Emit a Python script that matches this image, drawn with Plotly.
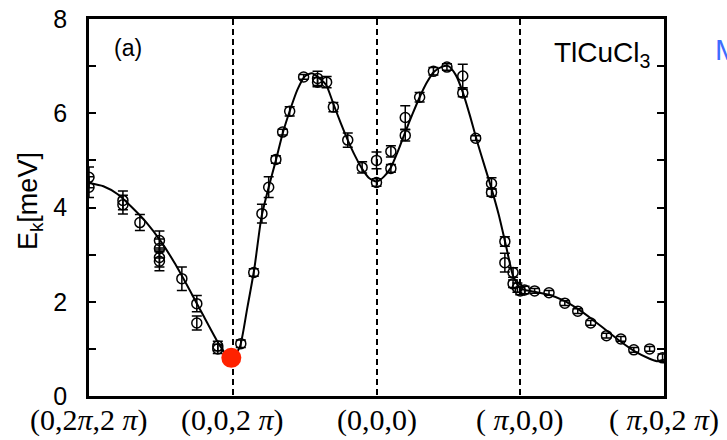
import plotly.graph_objects as go

# symmetry points along the path
path_pos = [0, 1, 2, 3, 4]
path_labels = ["(0,2<i>π</i>,2 <i>π</i>)", "(0,0,2 <i>π</i>)", "(0,0,0)", "( <i>π</i>,0,0)", "( <i>π</i>,0,2 <i>π</i>)"]

# measured points (path coordinate, energy meV, error)
pt_t = [0.0, 0.0, 0.236, 0.236, 0.354, 0.49, 0.49, 0.49, 0.49, 0.646, 0.75, 0.75, 0.896, 0.896,
        1.056, 1.146, 1.203, 1.25, 1.30, 1.347, 1.396, 1.493, 1.59, 1.59, 1.653, 1.70, 1.80, 1.90, 2.0, 2.0,
        2.10, 2.10, 2.20, 2.20, 2.30, 2.396, 2.49, 2.60, 2.60, 2.69, 2.80, 2.80, 2.893, 2.893, 2.95, 2.95, 2.98, 3.0, 3.03,
        3.10, 3.20, 3.31, 3.40, 3.49, 3.60, 3.70, 3.79, 3.90, 3.99]
pt_e = [4.64, 4.43, 4.15, 4.06, 3.68, 3.30, 3.13, 2.94, 2.86, 2.49, 1.96, 1.55, 1.06, 1.00,
        1.11, 2.62, 3.87, 4.43, 5.02, 5.60, 6.04, 6.77, 6.74, 6.66, 6.66, 6.13, 5.43, 4.85, 5.00, 4.53,
        5.19, 4.83, 5.91, 5.53, 6.34, 6.89, 6.98, 6.79, 6.43, 5.47, 4.51, 4.32, 3.28, 2.83, 2.62, 2.38, 2.30, 2.23, 2.25,
        2.23, 2.19, 1.97, 1.80, 1.55, 1.28, 1.21, 0.98, 1.00, 0.81]
pt_err = [0.22, 0.22, 0.20, 0.20, 0.17, 0.20, 0.20, 0.20, 0.20, 0.25, 0.17, 0.15, 0.10, 0.10,
          0.08, 0.08, 0.20, 0.22, 0.08, 0.06, 0.10, 0.05, 0.15, 0.10, 0.12, 0.10, 0.15, 0.12, 0.18, 0.08,
          0.12, 0.08, 0.25, 0.12, 0.10, 0.08, 0.07, 0.25, 0.08, 0.05, 0.12, 0.08, 0.10, 0.20, 0.10, 0.08, 0.10, 0.08, 0.08,
          0.05, 0.05, 0.05, 0.05, 0.05, 0.05, 0.05, 0.05, 0.05, 0.08]

# theoretical dispersion curve
fit_t = [0.0, 0.1, 0.2, 0.3, 0.4, 0.5, 0.6, 0.7, 0.8, 0.9, 0.95, 1.0,
         1.05, 1.1, 1.15, 1.2, 1.25, 1.3, 1.35, 1.4, 1.45, 1.5, 1.55, 1.6, 1.65, 1.7, 1.75, 1.8, 1.85, 1.9, 1.95, 2.0,
         2.05, 2.1, 2.15, 2.2, 2.25, 2.3, 2.35, 2.4, 2.45, 2.5, 2.55, 2.6, 2.65, 2.7, 2.75, 2.8, 2.85, 2.9, 2.95, 3.0,
         3.05, 3.1, 3.2, 3.3, 3.4, 3.5, 3.6, 3.7, 3.8, 3.9, 3.95, 4.0]
fit_e = [4.52, 4.45, 4.28, 4.00, 3.68, 3.28, 2.80, 2.25, 1.68, 1.12, 0.90, 0.82,
         1.05, 1.85, 2.70, 3.80, 4.43, 5.00, 5.60, 6.08, 6.50, 6.78, 6.85, 6.75, 6.60, 6.20, 5.80, 5.43, 5.10, 4.82, 4.62, 4.55,
         4.65, 4.85, 5.20, 5.60, 5.98, 6.34, 6.65, 6.88, 6.98, 7.00, 6.82, 6.45, 5.95, 5.40, 4.90, 4.40, 3.85, 3.20, 2.55, 2.28,
         2.24, 2.21, 2.15, 2.03, 1.85, 1.63, 1.39, 1.15, 0.94, 0.79, 0.74, 0.77]

# highlighted gap minimum
gap_t = [0.99]
gap_e = [0.81]

fig = go.Figure()
fig.add_trace(go.Scatter(x=fit_t, y=fit_e, mode="lines", line=dict(color="black", width=2, shape="spline", smoothing=0.6),
                         showlegend=False, hoverinfo="skip"))
fig.add_trace(go.Scatter(x=pt_t, y=pt_e, mode="markers",
                         error_y=dict(type="data", array=pt_err, color="black", thickness=1.5, width=5),
                         marker=dict(symbol="circle-open", size=10, color="black", line=dict(width=1.5)),
                         showlegend=False))
fig.add_trace(go.Scatter(x=gap_t, y=gap_e, mode="markers", marker=dict(size=20, color="#ff2200"),
                         showlegend=False))

# path labels below the axis
label_ann = [dict(text=lab, xref="x", yref="paper", x=pos, y=0, yshift=-5, showarrow=False,
                  xanchor="center", yanchor="top",
                  font=dict(family="Liberation Serif", size=30, color="black"))
             for pos, lab in zip(path_pos, path_labels)]

fig.update_layout(
    width=727, height=440,
    margin=dict(l=89, r=63, t=19, b=44),
    plot_bgcolor="white", paper_bgcolor="white",
    font=dict(family="Liberation Sans", color="black"),
    xaxis=dict(range=[0, 4], tickvals=path_pos, showticklabels=False, ticks="", automargin=False,
               showgrid=True, gridcolor="black", gridwidth=2, griddash="6px,4px",
               showline=True, linecolor="black", linewidth=2.5, mirror=True, zeroline=False),
    yaxis=dict(range=[0, 8], tickvals=[0, 2, 4, 6, 8], ticks="inside", ticklen=7, tickwidth=2, tickcolor="black",
               automargin=False,
               minor=dict(tickvals=[1, 3, 5, 7], ticks="inside", ticklen=7, tickwidth=2, tickcolor="black", showgrid=False),
               showgrid=False, zeroline=False, showline=True, linecolor="black", linewidth=2.5, mirror="ticks",
               tickfont=dict(family="Liberation Sans", size=25, color="black"), ticklabelstandoff=14),
    annotations=label_ann + [
        dict(text="(a)", xref="paper", yref="paper", x=0.068, y=0.923, showarrow=False,
             xanchor="center", yanchor="middle", font=dict(size=23, color="black")),
        dict(text="TlCuCl<sub>3</sub>", xref="paper", yref="paper", x=0.981, y=0.905, showarrow=False,
             xanchor="right", yanchor="middle", font=dict(size=28, color="black")),
        dict(text="M", xref="paper", yref="paper", x=1.085, y=0.918, showarrow=False,
             xanchor="left", yanchor="middle", font=dict(size=30, color="#3d6cff")),
        dict(text="E<sub>k</sub>[meV]", xref="paper", yref="paper", x=-0.1026, y=0.517, showarrow=False,
             textangle=-90, xanchor="center", yanchor="middle", font=dict(size=27, color="black")),
    ],
)

fig.write_html("out.html", config={"displayModeBar": False},
               post_script="document.body.style.margin='0';document.body.style.overflow='hidden';")
